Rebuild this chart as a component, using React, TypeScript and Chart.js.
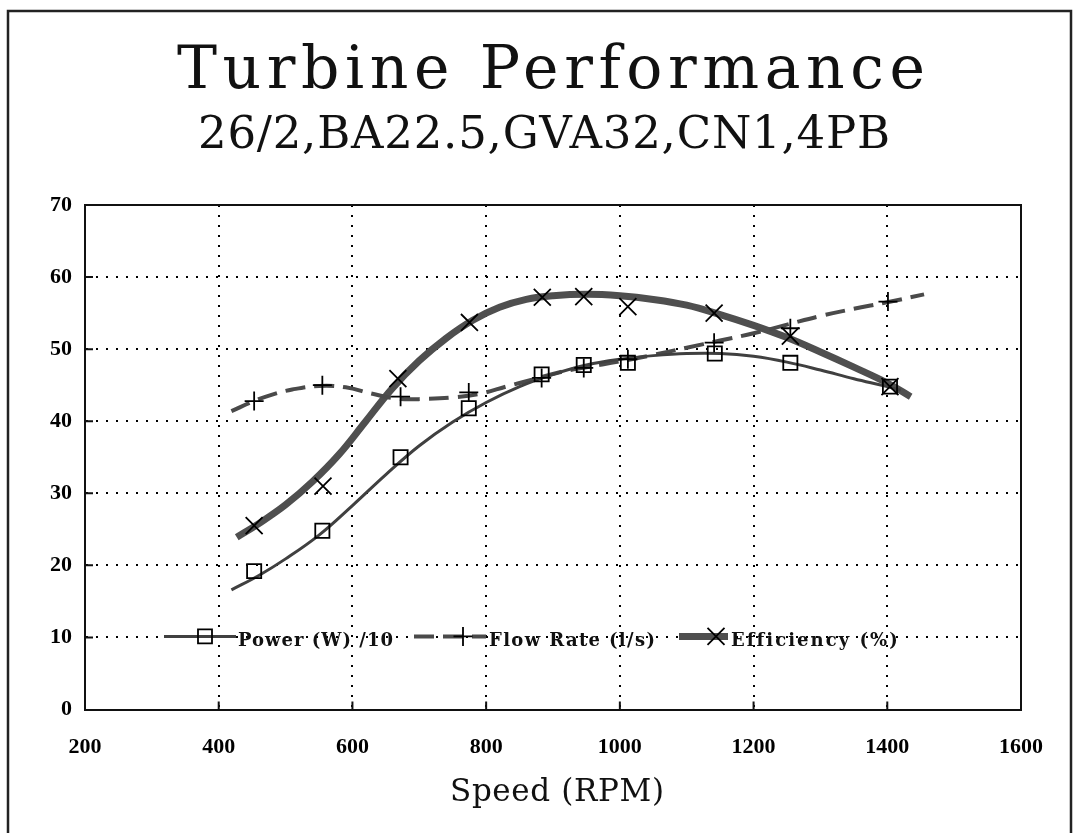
import React, { useEffect, useRef } from "react";
import { Chart, registerables } from "chart.js";

Chart.register(...registerables);

// ---------- text ----------
const TITLE = "Turbine Performance";
const SUBTITLE = "26/2,BA22.5,GVA32,CN1,4PB";
const X_TITLE = "Speed (RPM)";
const LEGEND_LABELS = ["Power (W) /10", "Flow Rate (l/s)", "Efficiency (%)"];
const LEGEND_LEVEL = 10;

// ---------- axes ----------
const X_TICKS = [200, 400, 600, 800, 1000, 1200, 1400, 1600];
const Y_TICKS = [0, 10, 20, 30, 40, 50, 60, 70];

// ---------- measured points (markers) ----------
const powerSpeed = [453, 555, 672, 774, 883, 946, 1012, 1142, 1255, 1404];
const powerValues = [19.2, 24.8, 35.0, 41.8, 46.5, 47.8, 48.1, 49.4, 48.1, 44.8];

const flowSpeed = [453, 555, 672, 774, 883, 946, 1012, 1141, 1255, 1401];
const flowValues = [42.8, 45.0, 43.4, 44.0, 46.0, 47.4, 48.6, 50.9, 52.9, 56.6];

const effSpeed = [453, 556, 668, 775, 884, 946, 1012, 1141, 1255, 1404];
const effValues = [25.5, 31.0, 45.9, 53.7, 57.2, 57.3, 55.9, 55.0, 51.8, 44.8];

// ---------- fitted curves ----------
const powerFitSpeed = [419, 460, 500, 550, 600, 650, 700, 750, 800, 850, 900, 950, 1000, 1050, 1100, 1150, 1200, 1250, 1300, 1350, 1400, 1420];
const powerFitValues = [16.6, 18.6, 20.9, 24.2, 28.3, 32.6, 36.6, 39.9, 42.6, 44.8, 46.5, 47.8, 48.6, 49.1, 49.4, 49.4, 49.0, 48.2, 47.1, 45.9, 44.8, 44.3];

const flowFitSpeed = [419, 453, 480, 510, 550, 590, 630, 670, 710, 750, 790, 830, 870, 910, 950, 1000, 1050, 1100, 1150, 1200, 1250, 1300, 1350, 1400, 1455];
const flowFitValues = [41.4, 42.8, 43.7, 44.4, 44.9, 44.7, 43.8, 43.1, 43.1, 43.3, 43.8, 44.8, 45.8, 46.8, 47.5, 48.3, 49.2, 50.2, 51.2, 52.2, 53.4, 54.6, 55.6, 56.5, 57.6];

const effFitSpeed = [427, 460, 500, 540, 580, 620, 660, 700, 740, 780, 820, 860, 900, 950, 1000, 1050, 1100, 1150, 1200, 1250, 1300, 1350, 1400, 1435];
const effFitValues = [23.9, 25.8, 28.4, 31.6, 35.4, 40.0, 44.6, 48.4, 51.5, 54.0, 55.8, 56.9, 57.4, 57.6, 57.4, 56.9, 56.1, 54.8, 53.3, 51.6, 49.6, 47.5, 45.3, 43.4];

const pts = (xs: number[], ys: number[]) => xs.map((x, i) => ({ x, y: ys[i] }));

const SERIF = '"DejaVu Serif", serif';
const BOLD_TICK = '"Liberation Serif", serif';

const POWER_COLOR = "#404040";
const FLOW_COLOR = "#4a4a4a";
const EFF_COLOR = "#4f4f4f";

function drawFitted(ctx: any, text: string, x: number, baseline: number, font: string, width: number, align: "center" | "left" = "center") {
  ctx.save();
  ctx.font = font;
  ctx.letterSpacing = "0px";
  const w = ctx.measureText(text).width;
  const n = Array.from(text).length;
  const ls = n > 1 ? (width - w) / (n - 1) : 0;
  ctx.letterSpacing = ls + "px";
  ctx.textAlign = "left";
  ctx.textBaseline = "alphabetic";
  ctx.fillStyle = "#111";
  const left = align === "center" ? x - width / 2 : x;
  ctx.fillText(text, left, baseline);
  ctx.restore();
}

function drawMarker(ctx: any, style: string, x: number, y: number) {
  ctx.save();
  ctx.strokeStyle = "#000";
  ctx.lineWidth = 1.8;
  ctx.setLineDash([]);
  ctx.beginPath();
  if (style === "rect") {
    const h = 7;
    ctx.rect(x - h, y - h, 2 * h, 2 * h);
  } else if (style === "cross") {
    const r = 9.5;
    ctx.moveTo(x - r, y); ctx.lineTo(x + r, y);
    ctx.moveTo(x, y - r); ctx.lineTo(x, y + r);
  } else {
    const r = 8.5;
    ctx.moveTo(x - r, y - r); ctx.lineTo(x + r, y + r);
    ctx.moveTo(x - r, y + r); ctx.lineTo(x + r, y - r);
  }
  ctx.stroke();
  ctx.restore();
}

const decorPlugin = {
  id: "decor",
  afterDraw(chart: any) {
    const { ctx, chartArea: ca, scales } = chart;
    const xs = scales.x;
    const ys = scales.y;
    ctx.save();
    ctx.setLineDash([]);
    ctx.strokeStyle = "#111";
    ctx.lineWidth = 2;
    ctx.beginPath();
    ctx.moveTo(ca.left, ca.top);
    ctx.lineTo(ca.right, ca.top);
    ctx.lineTo(ca.right, ca.bottom);
    ctx.stroke();
    ctx.beginPath();
    Y_TICKS.slice(1, -1).forEach((v) => {
      const y = ys.getPixelForValue(v);
      ctx.moveTo(ca.left, y);
      ctx.lineTo(ca.left + 8, y);
    });
    X_TICKS.slice(1, -1).forEach((v) => {
      const x = xs.getPixelForValue(v);
      ctx.moveTo(x, ca.bottom);
      ctx.lineTo(x, ca.bottom - 8);
    });
    ctx.stroke();
    ctx.strokeStyle = "#222";
    ctx.lineWidth = 2.5;
    ctx.beginPath();
    ctx.moveTo(8, 833);
    ctx.lineTo(8, 11);
    ctx.lineTo(1071, 11);
    ctx.lineTo(1071, 833);
    ctx.stroke();
    ctx.restore();

    drawFitted(ctx, TITLE, 551, 88, `60px ${SERIF}`, 748);
    drawFitted(ctx, SUBTITLE, 544, 148, `45px ${SERIF}`, 692);
    drawFitted(ctx, X_TITLE, 557, 801, `31px ${SERIF}`, 214);

    const ly = ys.getPixelForValue(LEGEND_LEVEL);
    const lineY = ly - 1;
    ctx.save();
    ctx.strokeStyle = POWER_COLOR;
    ctx.lineWidth = 3;
    ctx.beginPath();
    ctx.moveTo(164, lineY); ctx.lineTo(236, lineY);
    ctx.stroke();
    drawMarker(ctx, "rect", 205, lineY);
    ctx.strokeStyle = FLOW_COLOR;
    ctx.lineWidth = 4;
    ctx.setLineDash([20, 9]);
    ctx.beginPath();
    ctx.moveTo(414, lineY); ctx.lineTo(486, lineY);
    ctx.stroke();
    ctx.setLineDash([]);
    drawMarker(ctx, "cross", 463, lineY);
    ctx.strokeStyle = EFF_COLOR;
    ctx.lineWidth = 7;
    ctx.beginPath();
    ctx.moveTo(679, lineY); ctx.lineTo(728, lineY);
    ctx.stroke();
    drawMarker(ctx, "crossRot", 716, lineY);
    ctx.restore();

    const lf = `bold 18px ${SERIF}`;
    drawFitted(ctx, LEGEND_LABELS[0], 238, ly + 9, lf, 155, "left");
    drawFitted(ctx, LEGEND_LABELS[1], 489, ly + 9, lf, 166, "left");
    drawFitted(ctx, LEGEND_LABELS[2], 731, ly + 9, lf, 166, "left");
  },
};

export default function App() {
  const ref = useRef<HTMLCanvasElement | null>(null);

  useEffect(() => {
    if (!ref.current) return;
    const fitLine = (data: any, color: string, width: number, dash: number[] = [], order = 2) => ({
      type: "line",
      data,
      showLine: true,
      borderColor: color,
      borderWidth: width,
      borderDash: dash,
      pointRadius: 0,
      pointHoverRadius: 0,
      tension: 0.4,
      fill: false,
      order,
    });
    const marks = (data: any, style: string, radius: number) => ({
      type: "line",
      data,
      showLine: false,
      pointStyle: style,
      pointRadius: radius,
      pointHoverRadius: radius,
      pointBorderColor: "#000",
      pointBackgroundColor: "rgba(0,0,0,0)",
      pointBorderWidth: 1.8,
      borderColor: "#000",
      order: 0,
    });

    const tickFont = { family: BOLD_TICK, size: 22, weight: "bold" };

    const chart = new Chart(ref.current, {
      type: "line",
      data: {
        datasets: [
          marks(pts(powerSpeed, powerValues), "rect", 10),
          marks(pts(flowSpeed, flowValues), "cross", 9.5),
          marks(pts(effSpeed, effValues), "crossRot", 12),
          fitLine(pts(powerFitSpeed, powerFitValues), POWER_COLOR, 3, [], 1),
          fitLine(pts(flowFitSpeed, flowFitValues), FLOW_COLOR, 4, [20, 9], 1),
          fitLine(pts(effFitSpeed, effFitValues), EFF_COLOR, 7, [], 2),
        ] as any,
      },
      options: {
        responsive: false,
        animation: false,
        events: [],
        layout: { padding: { top: 205, right: 52, left: 0, bottom: 0 } },
        plugins: {
          legend: { display: false },
          title: { display: false },
          tooltip: { enabled: false },
        },
        scales: {
          x: {
            type: "linear",
            min: X_TICKS[0],
            max: X_TICKS[X_TICKS.length - 1],
            afterBuildTicks: (s: any) => { s.ticks = X_TICKS.map((v) => ({ value: v })); },
            afterFit: (s: any) => { s.height = 123.5; },
            grid: { color: "#000", lineWidth: 2, drawTicks: false },
            border: { display: true, color: "#111", width: 2, dash: [2, 8] },
            ticks: {
              autoSkip: false,
              maxRotation: 0,
              padding: 25,
              color: "#000",
              font: tickFont,
              callback: (v: any) => String(v),
            },
          },
          y: {
            type: "linear",
            min: Y_TICKS[0],
            max: Y_TICKS[Y_TICKS.length - 1],
            afterBuildTicks: (s: any) => { s.ticks = Y_TICKS.map((v) => ({ value: v })); },
            afterFit: (s: any) => { s.width = 85; },
            grid: { color: "#000", lineWidth: 2, drawTicks: false },
            border: { display: true, color: "#111", width: 2, dash: [2, 8] },
            ticks: {
              padding: 13,
              color: "#000",
              font: tickFont,
              callback: (v: any) => String(v),
            },
          },
        },
      } as any,
      plugins: [decorPlugin],
    });
    return () => chart.destroy();
  }, []);

  return (
    <div style={{ position: "absolute", left: 0, top: 0, width: 1073, height: 833, background: "#fff" }}>
      <canvas ref={ref} width={1073} height={833} style={{ display: "block", width: 1073, height: 833 }} />
    </div>
  );
}
